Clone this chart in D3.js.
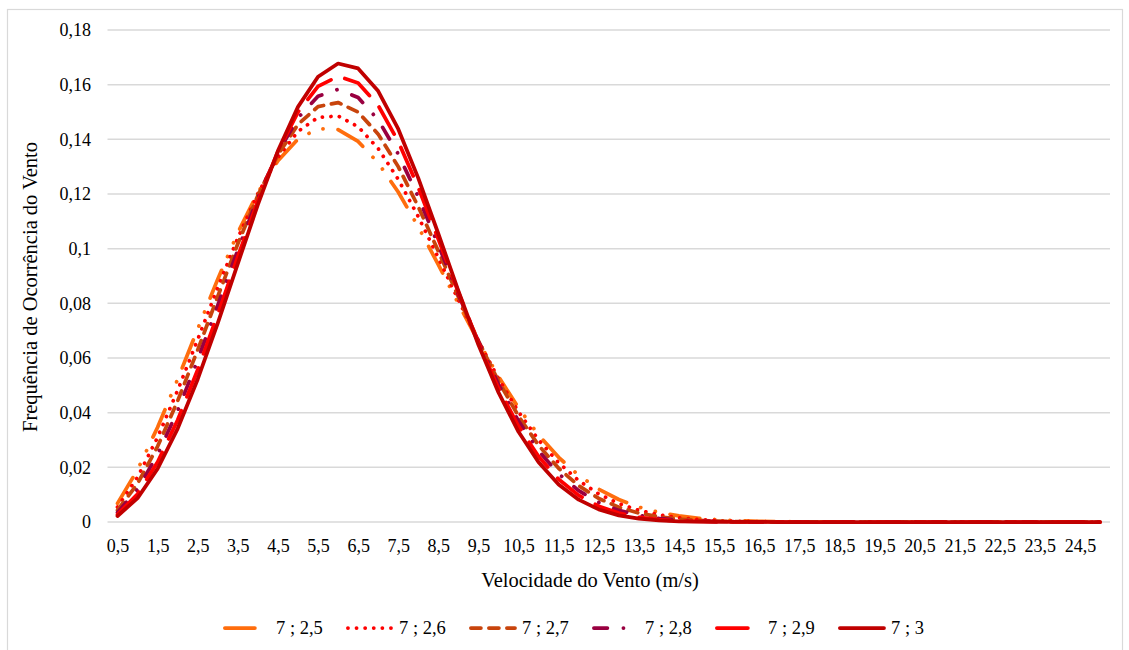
<!DOCTYPE html>
<html><head><meta charset="utf-8">
<script src="https://cdn.jsdelivr.net/npm/d3@7/dist/d3.min.js"></script>
<style>
html,body{margin:0;padding:0;background:#fff;}
text{font-family:"Liberation Serif","Times New Roman",serif;fill:#000;}
</style></head>
<body><svg id="chart" width="1129" height="650"></svg>
<script>
const speeds = [0.5,1,1.5,2,2.5,3,3.5,4,4.5,5,5.5,6,6.5,7,7.5,8,8.5,9,9.5,10,10.5,11,11.5,12,12.5,13,13.5,14,14.5,15,15.5,16,16.5,17,17.5,18,18.5,19,19.5,20,20.5,21,21.5,22,22.5,23,23.5,24,24.5,25];
const seriesNames = ["7 ; 2,5","7 ; 2,6","7 ; 2,7","7 ; 2,8","7 ; 2,9","7 ; 3"];
const s25 = [0.00681,0.01914,0.03468,0.05221,0.07063,0.08885,0.10581,0.12053,0.13216,0.14009,0.14391,0.14355,0.13923,0.13139,0.12071,0.10800,0.09412,0.07990,0.06606,0.05319,0.04171,0.03184,0.02365,0.01710,0.01202,0.00822,0.00546,0.00353,0.00221,0.00135,0.00080,0.00046,0.00026,0.00014,0.00007,0.00004,0.00002,0.00001,0,0,0,0,0,0,0,0,0,0,0,0];
const s26 = [0.00544,0.01640,0.03101,0.04816,0.06677,0.08573,0.10390,0.12013,0.13340,0.14289,0.14801,0.14854,0.14462,0.13664,0.12537,0.11171,0.09667,0.08124,0.06627,0.05247,0.04030,0.03002,0.02168,0.01516,0.01027,0.00674,0.00427,0.00262,0.00155,0.00089,0.00049,0.00026,0.00014,0.00007,0.00003,0.00002,0.00001,0,0,0,0,0,0,0,0,0,0,0,0,0];
const s27 = [0.00434,0.01404,0.02768,0.04432,0.06297,0.08253,0.10179,0.11947,0.13438,0.14547,0.15197,0.15346,0.14998,0.14190,0.13001,0.11535,0.09909,0.08238,0.06625,0.05151,0.03870,0.02808,0.01966,0.01327,0.00863,0.00541,0.00326,0.00189,0.00105,0.00056,0.00029,0.00014,0.00007,0.00003,0.00001,0.00001,0,0,0,0,0,0,0,0,0,0,0,0,0,0];
const s28 = [0.00346,0.01200,0.02466,0.04071,0.05927,0.07929,0.09951,0.11857,0.13509,0.14783,0.15576,0.15830,0.15532,0.14715,0.13463,0.11892,0.10136,0.08332,0.06600,0.05034,0.03694,0.02605,0.01764,0.01146,0.00713,0.00425,0.00242,0.00132,0.00068,0.00034,0.00016,0.00007,0.00003,0.00001,0,0,0,0,0,0,0,0,0,0,0,0,0,0,0,0];
const s29 = [0.00275,0.01024,0.02194,0.03733,0.05569,0.07602,0.09709,0.11744,0.13556,0.14996,0.15940,0.16306,0.16064,0.15241,0.13923,0.12241,0.10349,0.08405,0.06552,0.04896,0.03503,0.02396,0.01565,0.00975,0.00578,0.00326,0.00175,0.00089,0.00043,0.00019,0.00008,0.00003,0.00001,0,0,0,0,0,0,0,0,0,0,0,0,0,0,0,0,0];
const s30 = [0.00219,0.00872,0.01949,0.03418,0.05223,0.07276,0.09455,0.11612,0.13579,0.15188,0.16289,0.16774,0.16594,0.15766,0.14381,0.12581,0.10546,0.08458,0.06482,0.04739,0.03300,0.02185,0.01373,0.00817,0.00460,0.00244,0.00122,0.00058,0.00025,0.00011,0.00004,0.00002,0.00001,0,0,0,0,0,0,0,0,0,0,0,0,0,0,0,0,0];
const yTicks = [0,0.02,0.04,0.06,0.08,0.1,0.12,0.14,0.16,0.18];

const seriesValues = [s25,s26,s27,s28,s29,s30];
const colors = ["#FF6D0D","#FF0000","#C8440C","#990040","#FF0000","#C00000"];
const dashes = ["30,15,0.1,15,0.1,15","0.1,8.5","10,8","13.5,16,0.1,16","31,15",null];

const svg = d3.select("#chart");
const M = {left:107.5, right:1110, top:30, bottom:522};

svg.append("rect").attr("x",7.5).attr("y",9.5).attr("width",1115).attr("height",660)
  .attr("fill","#fff").attr("stroke","#d9d9d9").attr("stroke-width",1.2);

const x = d3.scalePoint().domain(speeds).range([M.left,M.right]).padding(0.5);
const y = d3.scaleLinear().domain([0,0.18]).range([M.bottom,M.top]);
const fmt = v => String(v).replace(".", ",");

svg.append("g").selectAll("line").data(yTicks).join("line")
  .attr("x1",M.left).attr("x2",M.right).attr("y1",d=>y(d)).attr("y2",d=>y(d))
  .attr("stroke","#d9d9d9").attr("stroke-width",1.5);

const yAxis = d3.axisLeft(y).tickValues(yTicks).tickFormat(fmt).tickSize(0).tickPadding(0);
const gy = svg.append("g").attr("transform",`translate(91,0)`).call(yAxis);
gy.select(".domain").remove();
gy.selectAll("text").attr("font-size","18px").attr("font-family","Liberation Serif").attr("fill","#000");

const xAxis = d3.axisBottom(x).tickValues(speeds.filter((d,i)=>i%2===0)).tickFormat(fmt).tickSize(0).tickPadding(0);
const gx = svg.append("g").attr("transform",`translate(0,539)`).call(xAxis);
gx.select(".domain").remove();
gx.selectAll("text").attr("font-size","18px").attr("font-family","Liberation Serif").attr("fill","#000");

const line = d3.line().x((d,i)=>x(speeds[i])).y(d=>y(d));
seriesValues.forEach((vals,k)=>{
  const p = svg.append("path").datum(vals).attr("d",line)
    .attr("fill","none").attr("stroke",colors[k]).attr("stroke-width",3.75)
    .attr("stroke-linecap","round").attr("stroke-linejoin","round");
  if (dashes[k]) p.attr("stroke-dasharray",dashes[k]);
});

svg.append("text").attr("x",590).attr("y",580).attr("text-anchor","middle").attr("dy","0.35em")
  .attr("font-size","20.5px").text("Velocidade do Vento (m/s)");
svg.append("text").attr("transform","translate(30,287) rotate(-90)").attr("text-anchor","middle").attr("dy","0.35em")
  .attr("font-size","20.5px").text("Frequência de Ocorrência do Vento");

const lg = svg.append("g");
seriesNames.forEach((name,k)=>{
  const x0 = 223 + 123*k;
  const l = lg.append("line").attr("x1",x0+1.9).attr("x2",x0+46).attr("y1",628).attr("y2",628)
    .attr("stroke",colors[k]).attr("stroke-width",3.75).attr("stroke-linecap","round");
  if (dashes[k]) l.attr("stroke-dasharray",dashes[k]);
  lg.append("text").attr("x",x0+53).attr("y",628).attr("dy","0.35em").attr("font-size","18.5px").text(name);
});
</script></body></html>
